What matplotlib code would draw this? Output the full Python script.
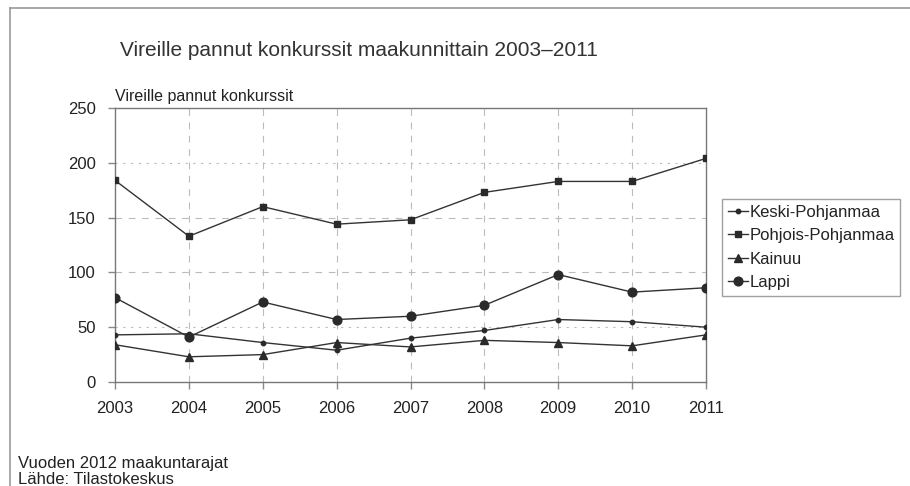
import matplotlib
matplotlib.use("Agg")
import matplotlib.pyplot as plt
from matplotlib.lines import Line2D

plt.rcParams['font.family'] = ['Liberation Sans', 'DejaVu Sans']

years = [2003, 2004, 2005, 2006, 2007, 2008, 2009, 2010, 2011]
keski = [43, 44, 36, 29, 40, 47, 57, 55, 50]
pohjois = [184, 133, 160, 144, 148, 173, 183, 183, 204]
kainuu = [34, 23, 25, 36, 32, 38, 36, 33, 43]
lappi = [77, 41, 73, 57, 60, 70, 98, 82, 86]
series_names = ["Keski-Pohjanmaa", "Pohjois-Pohjanmaa", "Kainuu", "Lappi"]
yticks = [0, 50, 100, 150, 200, 250]

fig = plt.figure(figsize=(9.1, 4.86), dpi=100)
ax = fig.add_axes([115/910, 1-382/486, (706-115)/910, (382-108)/486])

line_col = '#333333'
styles = [
    (keski, 'o', 3.2),
    (pohjois, 's', 5),
    (kainuu, '^', 5.8),
    (lappi, 'o', 6.3),
]
handles = []
for (vals, mk, ms), name in zip(styles, series_names):
    h, = ax.plot(years, vals, color=line_col, lw=1.0, marker=mk, markersize=ms,
                 markerfacecolor='#2a2a2a', markeredgecolor='#2a2a2a', label=name, zorder=3)
    handles.append(h)

ax.set_xlim(2003, 2011)
ax.set_ylim(0, 250)
ax.set_xticks(years)
ax.set_yticks(yticks)
ax.tick_params(axis='both', labelsize=12, colors='#888888', labelcolor='#222222',
               direction='out', length=5, width=1)
ax.tick_params(axis='x', pad=9)
ax.tick_params(axis='y', pad=9)

# grid
for x in years[1:-1]:
    ax.axvline(x, color='#bbbbbb', lw=0.8, ls=(0, (6, 6)), zorder=1)
for y in [50, 200]:
    ax.axhline(y, color='#bbbbbb', lw=0.8, ls=(0, (2, 5)), zorder=1)
for y in [100, 150]:
    ax.axhline(y, color='#bbbbbb', lw=0.8, ls=(0, (6, 6)), zorder=1)

for sp in ax.spines.values():
    sp.set_color('#777777')
    sp.set_linewidth(1.0)

fig.text(115/910, 1-96/486, "Vireille pannut konkurssit",
         fontsize=11.5, color='#222222', ha='left', va='center')

fig.text(120/910, 1-51/486, "Vireille pannut konkurssit maakunnittain 2003\u20132011",
         fontsize=15, color='#333333', ha='left', va='center')

leg = fig.legend(handles=handles, loc='upper left',
                 bbox_to_anchor=(722/910, 1-199/486), fontsize=12,
                 frameon=True, fancybox=False, edgecolor='#888888',
                 handlelength=1.2, handletextpad=0.1, labelspacing=0.5,
                 borderpad=0.35, borderaxespad=0)
leg.get_frame().set_linewidth(1.0)
for t in leg.get_texts():
    t.set_color('#222222')

fig.text(18/910, 1-463/486, "Vuoden 2012 maakuntarajat", fontsize=12,
         color='#222222', ha='left', va='center')
fig.text(18/910, 1-479/486, "Lähde: Tilastokeskus", fontsize=12,
         color='#222222', ha='left', va='center')

# outer frame (top and left visible)
fig.add_artist(Line2D([10/910, 10/910], [0, 1-8/486], transform=fig.transFigure,
                      color='#999999', lw=1.2))
fig.add_artist(Line2D([10/910, 1], [1-8/486, 1-8/486], transform=fig.transFigure,
                      color='#999999', lw=1.2))

fig.savefig("out.png", dpi=100)
